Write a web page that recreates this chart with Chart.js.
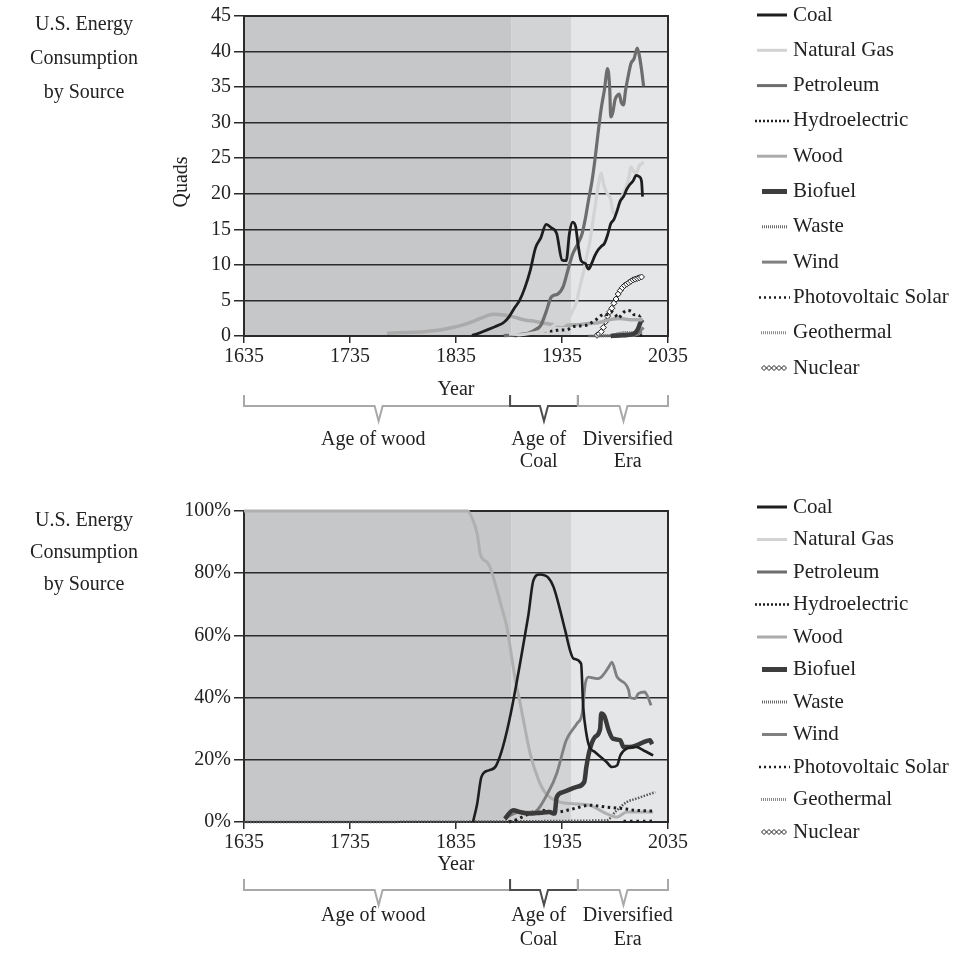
<!DOCTYPE html>
<html>
<head>
<title>U.S. Energy Consumption by Source</title>
<script src="https://cdn.jsdelivr.net/npm/chart.js"></script>
<style>
  body { margin: 0; background: #fff; }
  #wrap { position: relative; width: 955px; height: 953px; }
  canvas { position: absolute; left: 0; }
  #topChart { top: 0; }
  #bottomChart { top: 476px; }
</style>
</head>
<body>
<div id="wrap">
  <canvas id="topChart" width="955" height="476"></canvas>
  <canvas id="bottomChart" width="955" height="477"></canvas>
</div>
<script>
// ---- top chart: quads ----
const coalYears = [1850,1855,1860,1865,1870,1875,1880,1885,1890,1895,1900,1905,1910,1915,1920,1925,1930,1935,1939,1942,1945,1948,1950,1953,1957,1960,1963,1966,1969,1972,1975,1978,1981,1984,1987,1990,1993,1996,1999,2002,2005,2008,2010,2011];
const coalQuads = [0.1,0.3,0.6,0.9,1.2,1.5,1.9,2.7,3.9,5.0,6.8,9.2,12.4,13.8,15.7,15.2,14.4,10.7,10.6,14.4,16.0,15.3,13.0,10.6,10.2,9.4,10.2,11.3,12.1,12.6,13.0,14.2,15.8,16.4,17.6,19.0,19.6,20.6,21.3,21.8,22.6,22.4,21.8,19.6];

const gasYears = [1885,1890,1895,1900,1905,1910,1915,1920,1925,1930,1935,1940,1945,1949,1952,1955,1958,1961,1964,1967,1970,1972,1974,1976,1978,1981,1983,1985,1987,1989,1992,1995,1998,2000,2002,2004,2006,2008,2010,2012];
const gasQuads = [0.3,0.25,0.15,0.25,0.35,0.5,0.65,0.8,1.2,1.7,1.6,2.2,3.5,5.0,7.0,8.8,11.0,13.0,16.0,19.0,21.8,22.9,21.5,20.5,20.0,19.2,17.5,17.2,17.8,18.6,19.8,20.8,22.2,23.8,23.3,22.9,23.2,24.0,24.2,24.5];

const petroYears = [1880,1885,1890,1895,1900,1905,1910,1915,1920,1925,1931,1936,1941,1945,1950,1954,1957,1960,1963,1966,1969,1972,1975,1978,1980,1981,1983,1985,1987,1989,1991,1993,1995,1997,2000,2003,2006,2008,2010,2012];
const petroQuads = [0.05,0.1,0.15,0.2,0.3,0.5,0.9,1.5,3.4,5.5,5.9,6.9,9.5,11.5,13.0,14.4,16.5,19.1,21.5,24.7,28.5,32.0,34.6,37.6,34.8,30.8,31.5,33.2,33.8,34.0,32.8,32.5,34.6,36.2,38.3,39.0,40.5,39.4,37.5,35.1];

const hydroYears = [1890,1895,1900,1905,1910,1915,1920,1925,1930,1935,1940,1945,1950,1955,1960,1964,1968,1972,1975,1978,1982,1985,1988,1992,1996,2000,2003,2006,2009,2011];
const hydroQuads = [0.02,0.1,0.25,0.38,0.54,0.66,0.74,0.7,0.8,0.85,0.9,1.3,1.4,1.45,1.6,2.0,2.4,2.9,3.1,3.0,3.4,3.1,2.5,3.15,3.6,3.5,3.0,3.0,2.8,3.2];

const woodYears = [1770,1780,1790,1800,1810,1820,1830,1840,1850,1860,1870,1880,1890,1900,1910,1920,1930,1940,1950,1960,1970,1980,1990,2000,2011];
const woodQuads = [0.4,0.45,0.5,0.55,0.7,0.85,1.15,1.5,2.0,2.6,3.05,2.95,2.65,2.25,2.05,1.75,1.55,1.5,1.6,1.75,1.9,2.3,2.45,2.3,2.3];

const bioYears = [1981,1990,1995,2000,2003,2005,2007,2009,2011];
const bioQuads = [0.01,0.08,0.12,0.2,0.35,0.6,1.1,1.9,2.3];

const wasteYears = [1970,1980,1985,1990,1995,2000,2005,2011];
const wasteQuads = [0.02,0.05,0.2,0.4,0.5,0.45,0.45,0.5];

const windYears = [1990,2000,2004,2006,2008,2010,2012];
const windQuads = [0.03,0.06,0.14,0.26,0.55,0.9,1.2];

const pvYears = [1985,1995,2000,2005,2010,2012];
const pvQuads = [0.0,0.07,0.07,0.07,0.1,0.2];

const geoYears = [1960,1970,1980,1990,2000,2011];
const geoQuads = [0.0,0.01,0.05,0.33,0.3,0.35];

const nuclearYears = [1968,1970,1972,1974,1976,1978,1980,1982,1984,1986,1988,1990,1992,1994,1996,1998,2000,2002,2004,2006,2008,2010];
const nuclearQuads = [0.1,0.3,0.6,1.2,2.0,2.8,3.4,3.9,4.6,5.2,5.9,6.4,6.8,7.1,7.3,7.5,7.7,7.9,8.0,8.1,8.2,8.3];

// ---- bottom chart: share of total, % ----
const woodShareYears = [1635,1846,1851,1855,1858,1864,1867,1872,1878,1883,1888,1891,1895,1898,1905,1913,1920,1933,1946,1961,1977,1987,1996,2010,2021];
const woodShare = [100,100,97,92.7,86,83.6,82,76.6,69.1,62.7,52,45.6,39.1,33.8,22,13.4,9.1,6.4,5.9,5.4,2.7,1.6,3.2,3.2,3.2];

const coalShareYears = [1851,1855,1859,1866,1873,1903,1908,1914,1922,1927,1938,1943,1946,1953,1955,1958,1961,1966,1977,1982,1987,1990,1996,2005,2012,2021];
const coalShare = [0,5.9,14.5,16.6,18.2,65.9,77.7,79.6,78.6,75.6,61.6,54.7,52.5,50.9,37,28.4,24.1,22.5,19.3,17.7,18.2,21.4,23.6,24.1,23,21.4];

const petroShareYears = [1883,1895,1908,1923,1930,1939,1949,1954,1957,1960,1968,1972,1979,1982,1987,1998,1999,2004,2007,2013,2016,2019];
const petroShare = [1.6,3.2,3.2,10.2,15.6,26.3,31.6,34.9,44.5,46.6,46.1,46.6,49.8,51.4,46.6,42.3,40.2,39.7,41.3,41.8,40.2,37.5];

const gasShareYears = [1881,1889,1895,1904,1915,1923,1928,1930,1936,1949,1956,1958,1961,1966,1971,1972,1975,1979,1983,1990,1993,1999,2005,2012,2018,2020];
const gasShare = [1,3.8,3.2,2.7,3,3.2,2.7,8,9.6,11.3,12.9,17.7,23,27.3,30,34.9,34,29.5,26.8,26.3,24.1,24.1,24.6,25.7,26.3,25];

const hydroShareYears = [1885,1890,1900,1914,1930,1946,1961,1977,1993,2003,2020];
const hydroShare = [0,0.5,2,3.8,3.2,4.3,5.4,4.8,4.3,3.8,3.5];

const nuclearShareYears = [1635,1977,1986,1996,2005,2023];
const nuclearShare = [0,0.5,3.5,6.4,7.5,9.6];

const pvShareYears = [1993,2000,2010,2021];
const pvShare = [0.3,0.3,0.3,0.4];

// ---- text and annotation ----
const legendNames = ['Coal','Natural Gas','Petroleum','Hydroelectric','Wood','Biofuel','Waste','Wind','Photovoltaic Solar','Geothermal','Nuclear'];
const titleLines = ['U.S. Energy','Consumption','by Source'];
const eraEdges = [1635, 1887, 1944, 2035];
const eraColors = ['#c6c7c9', '#d2d3d5', '#e5e6e8'];
const bracketEdges = [1635, 1886, 1950, 2035];
const bracketTips = [1762, 1918, 1993];
const bracketColors = ['#a9a9a9', '#4d4d4d', '#a9a9a9'];
const eraLabels = [['Age of wood'], ['Age of', 'Coal'], ['Diversified', 'Era']];
const eraLabelCenters = [1757, 1913, 1997];

const serif = "'Liberation Serif', 'DejaVu Serif', serif";
const ink = '#222';

const legendStyles = [
  {color:'#1e1e1e', width:3, x0:757, x1:787},
  {color:'#d3d3d3', width:3, x0:757, x1:787},
  {color:'#6d6d6d', width:3, x0:757, x1:787},
  {color:'#1e1e1e', width:2.5, dash:[2,2], x0:755, x1:790},
  {color:'#ababab', width:3, x0:757, x1:787},
  {color:'#3d3d3d', width:5, x0:762, x1:787},
  {color:'#6a6a6a', width:3, dash:[1,1], x0:762, x1:787},
  {color:'#808080', width:3, x0:762, x1:787},
  {color:'#1e1e1e', width:2.5, dash:[2,3], x0:759, x1:790},
  {color:'#8a8a8a', width:3, dash:[1,1], x0:761, x1:787},
  {color:'#1e1e1e', width:1, type:'diamonds', x0:764, x1:787}
];

function series(label, years, vals, style) {
  return Object.assign({
    label: label,
    data: years.map((y, i) => ({x: y, y: vals[i]})),
    pointRadius: 0,
    fill: false,
    cubicInterpolationMode: 'monotone',
    clip: 5
  }, style);
}

function diamond(ctx, x, y, r) {
  ctx.beginPath();
  ctx.moveTo(x, y - r); ctx.lineTo(x + r, y); ctx.lineTo(x, y + r); ctx.lineTo(x - r, y);
  ctx.closePath();
  ctx.fillStyle = '#fff'; ctx.fill(); ctx.stroke();
}

const decor = {
  id: 'decor',
  beforeDraw(chart) {
    const {ctx, chartArea: a, scales: {x}} = chart;
    ctx.save();
    for (let i = 0; i < eraColors.length; i++) {
      const x0 = x.getPixelForValue(eraEdges[i]);
      const x1 = x.getPixelForValue(eraEdges[i + 1]);
      ctx.fillStyle = eraColors[i];
      ctx.fillRect(x0, a.top, x1 - x0, a.bottom - a.top);
    }
    ctx.restore();
  },
  beforeDatasetsDraw(chart) {
    const {ctx, chartArea: a} = chart;
    ctx.save();
    ctx.strokeStyle = '#2b2b2b';
    ctx.lineWidth = 2;
    ctx.strokeRect(a.left, a.top, a.right - a.left, a.bottom - a.top);
    ctx.restore();
  },
  afterDraw(chart, args, o) {
    const {ctx, chartArea: a, scales: {x}} = chart;
    ctx.save();
    ctx.font = '20px ' + serif;
    ctx.fillStyle = ink;
    ctx.textAlign = 'center';
    ctx.textBaseline = 'middle';
    titleLines.forEach((t, i) => ctx.fillText(t, 84, o.titleY[i]));
    if (o.yTitle) {
      ctx.save();
      ctx.translate(182, o.yTitleY);
      ctx.rotate(-Math.PI / 2);
      ctx.fillText(o.yTitle, 0, 0);
      ctx.restore();
    }
    ctx.fillText('Year', (a.left + a.right) / 2, a.bottom + o.yearDy);

    // era brackets
    const by = a.bottom + o.bracketDy;
    ctx.lineWidth = 2;
    for (let i = 0; i < 3; i++) {
      const x0 = x.getPixelForValue(bracketEdges[i]);
      const x1 = x.getPixelForValue(bracketEdges[i + 1]);
      const xt = x.getPixelForValue(bracketTips[i]);
      ctx.strokeStyle = bracketColors[i];
      ctx.beginPath();
      ctx.moveTo(x0, by - 11); ctx.lineTo(x0, by); ctx.lineTo(xt - 4, by);
      ctx.lineTo(xt, by + 15); ctx.lineTo(xt + 4, by); ctx.lineTo(x1, by); ctx.lineTo(x1, by - 11);
      ctx.stroke();
    }
    eraLabels.forEach((lines, i) => lines.forEach((t, j) =>
      ctx.fillText(t, x.getPixelForValue(eraLabelCenters[i]), a.bottom + o.labelDy[j])));

    // legend
    ctx.textAlign = 'left';
    ctx.font = '21px ' + serif;
    legendNames.forEach((name, i) => {
      const s = legendStyles[i];
      const y = o.legendTop + i * o.legendStep;
      ctx.save();
      ctx.strokeStyle = s.color;
      ctx.lineWidth = s.width;
      ctx.setLineDash(s.dash || []);
      if (s.type === 'diamonds') {
        for (let px = s.x0; px <= s.x1; px += 5) diamond(ctx, px, y, 2.5);
      } else {
        ctx.beginPath(); ctx.moveTo(s.x0, y); ctx.lineTo(s.x1, y); ctx.stroke();
      }
      ctx.restore();
      ctx.fillText(name, 793, y);
    });
    ctx.restore();
  }
};

function makeOptions(yMax, yStep, yFmt, padTop, xHeight, extra) {
  const tickFont = {family: serif, size: 20};
  return {
    responsive: false,
    animation: false,
    layout: {padding: {left: 0, right: 287, top: padTop, bottom: 0}},
    scales: {
      x: {
        type: 'linear', min: 1635, max: 2035,
        afterFit: s => { s.height = xHeight; },
        ticks: {stepSize: 100, font: tickFont, color: ink, padding: 2, maxRotation: 0, callback: v => String(v)},
        grid: {drawOnChartArea: false, tickLength: 7, color: '#2b2b2b', lineWidth: 1.5},
        border: {color: '#2b2b2b', width: 2}
      },
      y: {
        min: 0, max: yMax,
        afterFit: s => { s.width = 244; },
        ticks: {stepSize: yStep, font: tickFont, color: ink, padding: 3, callback: yFmt},
        grid: {color: '#2b2b2b', lineWidth: 1.5, tickLength: 10},
        border: {color: '#2b2b2b', width: 2}
      }
    },
    plugins: {legend: {display: false}, tooltip: {enabled: false}, decor: extra}
  };
}

const dark = '#1e1e1e';

new Chart(document.getElementById('topChart'), {
  type: 'line',
  data: {datasets: [
    series('Coal', coalYears, coalQuads, {borderColor: dark, borderWidth: 2.8}),
    series('Natural Gas', gasYears, gasQuads, {borderColor: '#d3d3d3', borderWidth: 3.2}),
    series('Petroleum', petroYears, petroQuads, {borderColor: '#6d6d6d', borderWidth: 3.2}),
    series('Hydroelectric', hydroYears, hydroQuads, {borderColor: dark, borderWidth: 3, borderDash: [2.5, 3.5]}),
    series('Wood', woodYears, woodQuads, {borderColor: '#ababab', borderWidth: 3.5}),
    series('Biofuel', bioYears, bioQuads, {borderColor: '#3d3d3d', borderWidth: 4.5}),
    series('Waste', wasteYears, wasteQuads, {borderColor: '#6a6a6a', borderWidth: 3, borderDash: [1, 1]}),
    series('Wind', windYears, windQuads, {borderColor: '#808080', borderWidth: 3}),
    series('Photovoltaic Solar', pvYears, pvQuads, {borderColor: dark, borderWidth: 2.5, borderDash: [2, 3]}),
    series('Geothermal', geoYears, geoQuads, {borderColor: '#8a8a8a', borderWidth: 3, borderDash: [1, 1]}),
    series('Nuclear', nuclearYears, nuclearQuads, {borderColor: dark, borderWidth: 1, pointRadius: 3,
      pointStyle: 'rectRot', pointBackgroundColor: '#fff', pointBorderColor: dark, pointBorderWidth: 1})
  ]},
  options: makeOptions(45, 5, v => String(v), 16, 140, {
    titleY: [25, 59, 93], yTitle: 'Quads', yTitleY: 182,
    yearDy: 54, bracketDy: 70, labelDy: [104, 126],
    legendTop: 15, legendStep: 35.3
  }),
  plugins: [decor]
});

new Chart(document.getElementById('bottomChart'), {
  type: 'line',
  data: {datasets: [
    series('Coal', coalShareYears, coalShare, {borderColor: dark, borderWidth: 2.6}),
    series('Natural Gas', gasShareYears, gasShare, {borderColor: '#3a3a3a', borderWidth: 4.5}),
    series('Petroleum', petroShareYears, petroShare, {borderColor: '#7f7f7f', borderWidth: 2.8}),
    series('Hydroelectric', hydroShareYears, hydroShare, {borderColor: dark, borderWidth: 3, borderDash: [2.5, 3.5]}),
    series('Wood', woodShareYears, woodShare, {borderColor: '#b0b0b0', borderWidth: 3}),
    series('Photovoltaic Solar', pvShareYears, pvShare, {borderColor: dark, borderWidth: 2.5, borderDash: [2.5, 4]}),
    series('Nuclear', nuclearShareYears, nuclearShare, {borderColor: '#555', borderWidth: 2.5, borderDash: [1.5, 1.5]})
  ]},
  options: makeOptions(100, 20, v => v + '%', 35, 131, {
    titleY: [45, 77, 109], yTitle: null,
    yearDy: 43, bracketDy: 68, labelDy: [94, 118],
    legendTop: 31, legendStep: 32.5
  }),
  plugins: [decor]
});
</script>
</body>
</html>
